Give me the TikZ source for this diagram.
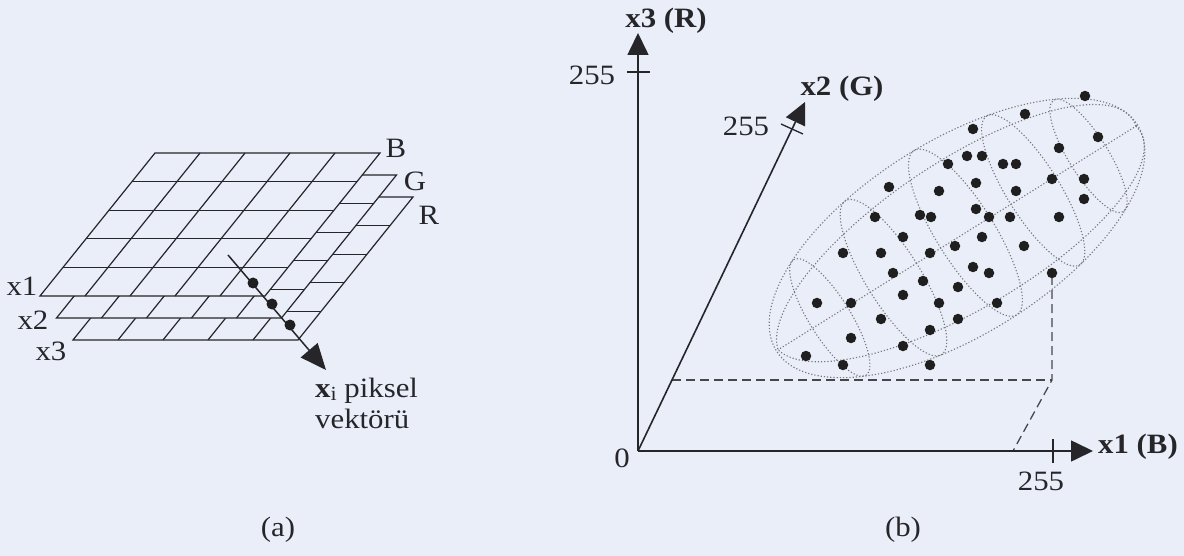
\documentclass[tikz,border=0pt]{standalone}
\usepackage{fontspec}
\setmainfont{Liberation Serif}
\usepackage{graphicx}
\usetikzlibrary{arrows.meta}
\definecolor{bg}{RGB}{233,238,248}
\definecolor{ink}{RGB}{38,38,42}
\definecolor{dotc}{RGB}{120,120,126}
\newcommand\sx[1]{\scalebox{1.1}[1]{#1}}
\newcommand\pixlayer[2]{%
  \filldraw[fill=bg, gridline] (155+#1,153+#2) -- (380+#1,153+#2) -- (265+#1,296+#2) -- (40+#1,296+#2) -- cycle;
  \foreach \i in {1,...,4} {\draw[gridline] ({155+#1-23*\i},{153+#2+28.6*\i}) -- ({380+#1-23*\i},{153+#2+28.6*\i});}
  \foreach \j in {1,...,4} {\draw[gridline] ({155+#1+45*\j},{153+#2}) -- ({40+#1+45*\j},{296+#2});}
}
\begin{document}
\begin{tikzpicture}[x=1pt,y=-1pt,
  lbl/.style={font=\fontsize{28}{30}\selectfont, text=ink, inner sep=0pt},
  blbl/.style={font=\fontsize{28}{30}\selectfont\bfseries, text=ink, inner sep=0pt},
  gridline/.style={draw=ink, line width=1.2pt},
  axis/.style={draw=ink, line width=1.6pt, -{Triangle[length=22pt,width=21pt]}},
  tickline/.style={draw=ink, line width=1.3pt},
  dashline/.style={draw=ink!85, line width=1.3pt, dash pattern=on 9pt off 5pt},
  sphere/.style={draw=dotc, line width=1.1pt, dash pattern=on 1.2pt off 2pt},
  datadot/.style={circle, fill=black!88, minimum size=10.5pt, inner sep=0pt},
]
\fill[bg] (0,0) rectangle (1184,556);
\useasboundingbox (0,0) rectangle (1184,556);

% ---------- (a) pixel layers ----------
\pixlayer{33}{44}
\pixlayer{16.5}{22}
\pixlayer{0}{0}
\node[lbl] (lB) at (396,148) {\sx{B}};
\node[lbl] (lG) at (415,181) {\sx{G}};
\node[lbl] (lR) at (429,215) {\sx{R}};
\node[lbl] (lx1) at (22,286) {\sx{x1}};
\node[lbl] (lx2) at (33,320) {\sx{x2}};
\node[lbl] (lx3) at (51,351) {\sx{x3}};

\coordinate (vs) at (228,255);
\coordinate (ve) at (326,370);
\draw[ink, line width=1.5pt, -{Triangle[length=26pt,width=22pt]}] (vs) -- (ve);
\node[datadot, minimum size=11pt] (v1) at (253,283) {};
\node[datadot, minimum size=11pt] (v2) at (272,304) {};
\node[datadot, minimum size=11pt] (v3) at (290,325) {};
\node[lbl, anchor=west] (vl1) at (315,391) {\sx{\textbf{x}{\fontsize{20}{20}\selectfont\raisebox{-3pt}{i}} piksel}};
\node[lbl, anchor=west] (vl2) at (315,419) {\sx{vektörü}};
\node[lbl] (ca) at (278,530) {\sx{(a)}};

% ---------- (b) feature space ----------
\coordinate (O) at (638,451);
\coordinate (X1) at (1093,451);
\coordinate (X3) at (638,33);
\coordinate (X2) at (805,102);
\coordinate (dA) at (672,380);
\coordinate (dB) at (1052,380);
\coordinate (dC) at (1013,451);
\coordinate (dD) at (1052,276);

\draw[dashline] (dA) -- (dB);

\begin{scope}[shift={(957,238)}, rotate=32]
  \filldraw[fill=bg, sphere] (0,0) ellipse [x radius=213pt, y radius=97pt];
  \foreach \t in {135.3,110.8,87.3,64.8,42.7} {
    \pgfmathsetmacro\rx{29.1*sin(\t)}
    \pgfmathsetmacro\ry{97*sin(\t)}
    \pgfmathsetmacro\cx{211*cos(\t)}
    \draw[sphere] (\cx,0) ellipse [x radius=\rx pt, y radius=\ry pt];
  }
  \foreach \p in {40,90,140} {
    \draw[sphere] plot[domain=0:180, samples=70, variable=\t] ({211*cos(\t)+29.1*sin(\t)*sin(\p)}, {97*sin(\t)*cos(\p)});
  }
\end{scope}

\draw[dashline] (dD) -- (dB) -- (dC);

\draw[axis] (O) -- (X1);
\draw[axis] (O) -- (X3);
\draw[axis] (O) -- (X2);

\coordinate (k1a) at (1053,439); \coordinate (k1b) at (1053,463);
\coordinate (k3a) at (627,72);   \coordinate (k3b) at (650,72);
\coordinate (k2a) at (781,124);  \coordinate (k2b) at (803,134);
\draw[tickline] (k1a) -- (k1b);
\draw[tickline] (k3a) -- (k3b);
\draw[tickline] (k2a) -- (k2b);

\foreach \x/\y [count=\k] in {1085/96, 1025/114, 973/129, 1098/137, 1059/148, 967/156, 982/156,
  948/164, 1003/164, 1016/164, 889/187, 939/191, 976/183, 1016/191, 1052/179, 1084/179, 1084/199,
  875/217, 920/215, 931/217, 976/209, 989/217, 1010/217, 1059/217, 903/237, 982/237, 843/253,
  881/253, 930/253, 955/246, 1024/246, 973/267, 893/273, 923/281, 989/273, 1052/273, 958/287,
  903/295, 817/303, 851/303, 939/303, 997/303, 881/319, 958/319, 851/338, 930/330, 903/346,
  806/356, 843/365, 930/365} {
  \node[datadot] (d\k) at (\x,\y) {};
}

\node[blbl] (l3) at (666,21) {\sx{x3 (R)}};
\node[blbl] (l2) at (842,89) {\sx{x2 (G)}};
\node[blbl] (l1) at (1138,447) {\sx{x1 (B)}};
\node[lbl] (zero) at (622,458) {\sx{0}};
\node[lbl] (t3) at (592,75) {\sx{255}};
\node[lbl] (t2) at (746,126) {\sx{255}};
\node[lbl] (t1) at (1041,481) {\sx{255}};
\node[lbl] (cb) at (903,530) {\sx{(b)}};
\end{tikzpicture}
\end{document}
